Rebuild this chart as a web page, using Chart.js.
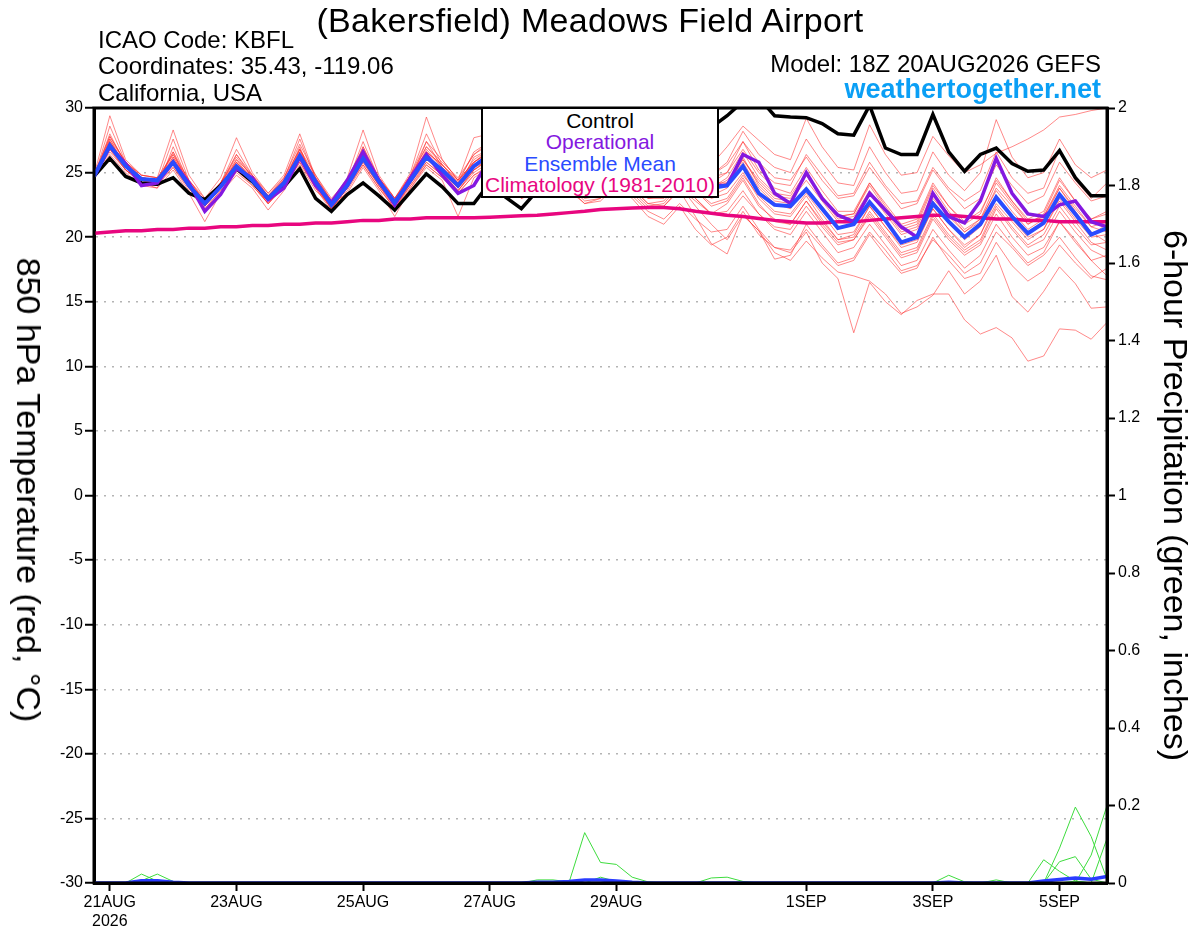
<!DOCTYPE html>
<html>
<head>
<meta charset="utf-8">
<title>(Bakersfield) Meadows Field Airport - GEFS 850 hPa Temperature</title>
<script src="https://cdn.jsdelivr.net/npm/chart.js@4.4.0/dist/chart.umd.min.js"></script>
<style>
    body { margin: 0; background: #fff; font-family: "Liberation Sans", Arial, sans-serif; }
    #wrap { position: relative; width: 1200px; height: 927px; overflow: hidden; }
    #wrap canvas { position: absolute; left: 0; top: 0; }
    .txt { position: absolute; white-space: nowrap; line-height: 1; color: #000; }
    #title { left: 590px; top: 3px; font-size: 34px; letter-spacing: 0.3px; transform: translateX(-50%); }
    #icao { left: 98px; top: 28px; font-size: 24px; }
    #coords { left: 98px; top: 54px; font-size: 24px; }
    #region { left: 98px; top: 81px; font-size: 24px; }
    #model { right: 99px; top: 52px; font-size: 24px; }
    #site { right: 99px; top: 76px; font-size: 27px; font-weight: bold; color: #0a9ff5; }
    #leftTitle { left: 29px; top: 490px; font-size: 34px; transform: translate(-50%, -50%) rotate(90deg); }
    #legendBox {
        position: absolute; left: 481px; top: 107px; width: 238px; height: 91px;
        box-sizing: border-box; border: 2px solid #000; background: #fff;
        text-align: center; font-size: 21px; line-height: 21.3px; padding-top: 1px;
    }
</style>
</head>
<body>
<div id="wrap">
    <canvas id="tempChart" width="1200" height="927"></canvas>
    <div class="txt" id="title">(Bakersfield) Meadows Field Airport</div>
    <div class="txt" id="icao">ICAO Code: KBFL</div>
    <div class="txt" id="coords">Coordinates: 35.43, -119.06</div>
    <div class="txt" id="region">California, USA</div>
    <div class="txt" id="model">Model: 18Z 20AUG2026 GEFS</div>
    <div class="txt" id="site">weathertogether.net</div>
    <div class="txt" id="leftTitle">850 hPa Temperature (red, °C)</div>
    <div id="legendBox">
        <div style="color:#000">Control</div>
        <div style="color:#8418e0">Operational</div>
        <div style="color:#2a4bff">Ensemble Mean</div>
        <div style="color:#e8067f">Climatology (1981-2010)</div>
    </div>
</div>
<script>
// Time axis: 65 steps of 6 hours from 18Z 20AUG2026, labels only on some days
const tickIndex = [1, 9, 17, 25, 33, 45, 53, 61];
const tickLabels = [['21AUG', '2026'], '23AUG', '25AUG', '27AUG', '29AUG', '1SEP', '3SEP', '5SEP'];

// 850 hPa temperature (C)
const control = [
    24.7, 26.1, 24.7, 24.2, 24.1, 24.6, 23.4, 22.9, 24.0, 25.3,
    24.3, 23.0, 23.9, 25.3, 23.0, 22.0, 23.3, 24.2, 23.2, 22.1,
    23.5, 24.9, 23.9, 22.6, 22.6, 24.2, 23.1, 22.2, 23.6, 25.8,
    25.0, 24.2, 25.2, 27.2, 26.4, 25.6, 26.4, 28.4, 28.0, 28.5,
    29.4, 30.5, 30.8, 29.4, 29.3, 29.25, 28.8, 28.0, 27.9, 30.2,
    26.9, 26.4, 26.4, 29.5, 26.6, 25.1, 26.4, 26.9, 25.7, 25.1,
    25.2, 26.7, 24.6, 23.2, 23.2
];
const operational = [
    24.7, 27.0, 25.7, 24.0, 24.2, 25.8, 24.2, 22.0, 23.3, 25.3,
    24.6, 22.9, 23.8, 26.2, 24.0, 22.7, 24.4, 26.6, 24.4, 22.5,
    24.6, 26.4, 24.8, 23.4, 24.0, 26.0, 25.0, 23.8, 24.2, 26.5,
    25.3, 24.0, 24.6, 26.0, 25.0, 24.0, 24.4, 25.8, 24.8, 24.0,
    24.0, 26.4, 25.8, 23.4, 22.6, 25.0, 23.0, 21.7, 21.2, 23.4,
    22.1, 20.8, 20.0, 23.4, 21.6, 21.1, 22.8, 26.1, 23.4, 21.8,
    21.6, 22.5, 22.8, 21.2, 20.8
];
const ensMean = [
    24.7, 27.1, 25.5, 24.5, 24.4, 25.8, 24.0, 22.6, 23.9, 25.5,
    24.4, 23.0, 24.2, 26.3, 24.3, 22.5, 24.0, 26.1, 24.3, 22.7,
    24.4, 26.2, 25.2, 24.0, 25.5, 26.4, 25.2, 24.0, 24.6, 26.2,
    25.1, 24.0, 24.4, 25.8, 24.9, 23.8, 24.2, 25.6, 24.6, 23.8,
    24.0, 25.5, 23.4, 22.5, 22.4, 23.7, 22.2, 20.7, 21.0, 22.7,
    21.3, 19.6, 20.0, 22.6, 21.2, 20.0, 21.0, 23.1, 21.6, 20.3,
    21.1, 23.3, 21.8, 20.2, 20.7
];
const climatology = [
    20.3, 20.4, 20.5, 20.5, 20.6, 20.6, 20.7, 20.7, 20.8, 20.8,
    20.9, 20.9, 21.0, 21.0, 21.1, 21.1, 21.2, 21.3, 21.3, 21.4,
    21.4, 21.5, 21.5, 21.5, 21.5, 21.55, 21.6, 21.65, 21.7, 21.8,
    21.9, 22.0, 22.15, 22.2, 22.25, 22.3, 22.3, 22.2, 22.0, 21.85,
    21.7, 21.6, 21.45, 21.3, 21.2, 21.1, 21.1, 21.2, 21.2, 21.3,
    21.4, 21.5, 21.6, 21.7, 21.7, 21.6, 21.5, 21.4, 21.4, 21.3,
    21.3, 21.2, 21.2, 21.2, 21.2
];

// Ensemble members (thin red)
const mem01 = [
    24.8, 29.4, 26.0, 24.8, 24.6, 28.3, 24.8, 23.0, 24.6, 27.7, 25.0, 23.4, 24.8, 28.0, 24.6, 22.8, 24.6, 28.3, 24.8, 23.0, 25.0, 29.3, 26.0, 24.4, 27.7,
    28.0, 26.5, 25.0, 25.6, 27.8, 26.4, 25.0, 25.6, 27.6, 26.4, 25.0, 25.6, 27.8, 26.8, 25.6,
    27.0, 28.6, 27.5, 26.4, 26.0, 29.2, 27.0, 25.4, 25.2, 28.7, 26.4, 24.8, 25.0, 27.8, 26.3, 25.0, 25.6, 26.5, 27.0, 27.6, 28.3, 29.3, 29.5, 29.8, 30.0
];
const mem02 = [
    24.6, 28.6, 25.8, 24.6, 24.2, 27.6, 24.4, 22.8, 24.2, 26.8, 24.8, 23.2, 24.5, 27.6, 24.5, 22.6, 24.2, 27.4, 24.5, 22.8, 24.8, 28.0, 25.6, 24.2, 26.6,
    27.4, 25.8, 24.6, 25.2, 27.2, 25.8, 24.6, 25.0, 27.0, 25.8, 24.6, 25.0, 27.2, 25.8, 24.8,
    25.8, 28.2, 26.4, 25.4, 25.0, 27.6, 25.8, 24.2, 24.0, 27.0, 25.0, 23.4, 23.6, 26.6, 24.8, 23.6, 25.0, 29.1, 26.2, 24.6, 25.0, 27.6, 25.6, 24.6, 25.2
];
const mem03 = [
    24.7, 28.0, 25.6, 24.2, 23.8, 27.0, 24.2, 22.4, 24.0, 26.4, 24.6, 22.8, 24.2, 27.0, 24.0, 22.2, 23.8, 27.0, 24.2, 22.4, 24.4, 27.4, 25.4, 23.8, 26.2,
    26.8, 25.4, 24.2, 24.8, 26.8, 25.4, 24.2, 24.8, 26.6, 25.4, 24.2, 24.8, 26.6, 25.2, 24.2,
    25.0, 27.4, 25.2, 24.2, 24.0, 26.4, 24.8, 23.2, 23.4, 25.8, 24.0, 22.6, 22.8, 25.4, 23.8, 22.8, 23.6, 26.6, 24.6, 23.4, 23.8, 26.8, 24.4, 23.0, 24.2
];
const mem04 = [
    24.6, 27.6, 25.4, 24.4, 24.2, 26.6, 24.0, 22.6, 23.8, 26.0, 24.4, 22.8, 24.0, 26.8, 24.2, 22.4, 24.0, 26.6, 24.2, 22.6, 24.4, 26.8, 25.4, 24.0, 25.8,
    26.6, 25.2, 24.0, 24.6, 26.4, 25.0, 23.8, 24.2, 25.8, 24.6, 23.4, 23.8, 25.4, 24.2, 23.2,
    23.8, 26.2, 24.0, 22.8, 22.6, 24.8, 23.0, 21.6, 21.8, 24.2, 22.4, 20.8, 21.2, 24.0, 22.4, 21.2, 22.0, 24.4, 22.8, 21.4, 22.0, 24.6, 22.8, 21.4, 22.0
];
const mem05 = [
    24.8, 27.2, 25.6, 24.6, 24.4, 25.8, 24.2, 22.8, 24.0, 25.8, 24.6, 23.2, 24.4, 26.4, 24.6, 22.8, 24.2, 26.2, 24.6, 23.0, 24.6, 26.6, 25.6, 24.4, 25.8,
    26.6, 25.4, 24.2, 24.8, 26.4, 25.2, 24.2, 24.6, 26.0, 25.0, 24.0, 24.2, 25.8, 24.8, 23.8,
    24.4, 26.0, 24.2, 23.0, 22.8, 24.4, 22.8, 21.2, 21.4, 23.4, 21.8, 20.2, 20.6, 23.0, 21.6, 20.4, 21.4, 23.6, 22.0, 20.6, 21.4, 23.8, 22.2, 20.8, 21.2
];
const mem06 = [
    24.7, 26.6, 25.2, 24.2, 24.0, 25.4, 23.6, 22.2, 23.6, 25.0, 24.0, 22.6, 23.8, 25.8, 23.8, 22.0, 23.6, 25.6, 23.8, 22.2, 23.8, 25.6, 24.6, 23.4, 24.8,
    25.6, 24.4, 23.2, 23.6, 25.2, 24.0, 22.8, 23.0, 24.2, 23.2, 22.0, 21.4, 22.6, 21.4, 20.4,
    20.6, 22.4, 20.6, 19.2, 18.8, 20.4, 18.0, 16.8, 12.6, 16.5, 15.0, 14.0, 15.1, 15.6, 15.6, 13.6, 12.5, 13.0, 12.2, 10.4, 10.8, 12.9, 12.8, 12.1, 13.4
];
const mem07 = [
    24.6, 27.0, 25.2, 24.4, 24.2, 25.6, 23.8, 22.4, 23.8, 25.2, 24.2, 22.8, 24.0, 26.0, 24.0, 22.2, 23.8, 25.8, 24.0, 22.4, 24.0, 25.8, 24.8, 23.6, 25.0,
    25.8, 24.6, 23.4, 23.8, 25.4, 24.2, 23.0, 23.2, 24.6, 23.6, 22.4, 22.6, 24.0, 22.4, 21.0,
    19.8, 21.7, 20.5, 18.8, 18.2, 19.7, 18.4, 17.3, 17.0, 16.6, 15.6, 14.1, 14.6, 15.5, 17.4, 15.6, 16.6, 18.6, 15.4, 14.2, 15.8, 17.7, 16.4, 14.5, 14.6
];
const mem08 = [
    24.7, 27.4, 25.6, 24.4, 24.2, 26.0, 24.0, 22.6, 24.0, 25.6, 24.2, 22.8, 24.2, 26.4, 24.2, 22.4, 24.0, 26.4, 24.2, 22.6, 24.4, 26.4, 25.2, 23.8, 25.4,
    26.0, 24.8, 23.6, 24.2, 25.8, 24.6, 23.4, 23.6, 25.0, 23.8, 22.6, 22.4, 23.6, 21.6, 19.5,
    18.7, 21.7, 20.5, 18.3, 18.6, 21.0, 19.4, 18.0, 18.4, 20.4, 19.0, 17.4, 17.8, 19.8, 18.6, 17.2, 18.0, 20.4, 19.2, 17.8, 18.6, 20.0, 18.4, 17.0, 16.7
];
const mem09 = [
    24.8, 27.8, 25.8, 24.8, 24.6, 26.4, 24.4, 23.0, 24.2, 26.0, 24.8, 23.4, 24.6, 26.8, 24.8, 23.0, 24.4, 26.6, 24.6, 23.0, 24.8, 27.0, 25.8, 24.6, 26.4,
    27.2, 26.0, 24.8, 25.4, 27.0, 25.8, 24.6, 25.2, 26.8, 25.8, 24.6, 25.0, 26.6, 25.6, 24.6,
    25.0, 26.8, 25.0, 23.8, 23.4, 25.4, 23.6, 22.0, 22.0, 24.2, 22.6, 21.0, 21.4, 24.2, 22.4, 21.0, 21.8, 24.6, 22.8, 21.2, 21.6, 24.0, 22.4, 20.8, 20.4
];
const mem10 = [
    24.6, 26.4, 25.0, 24.0, 23.8, 25.2, 23.4, 21.2, 23.4, 24.8, 23.8, 22.1, 23.6, 25.6, 23.6, 22.5, 23.4, 25.4, 23.6, 21.6, 23.8, 25.4, 24.4, 21.6, 24.6,
    25.4, 24.2, 23.0, 23.6, 25.0, 23.8, 22.6, 23.0, 24.4, 23.4, 22.2, 22.4, 23.8, 22.8, 21.8,
    22.6, 24.4, 22.4, 21.4, 21.0, 22.8, 21.0, 19.6, 19.8, 21.6, 20.0, 18.4, 18.8, 21.4, 19.8, 18.6, 19.4, 21.8, 20.0, 18.6, 19.2, 21.2, 19.8, 18.2, 18.6
];
const mem11 = [
    24.7, 27.0, 25.4, 24.2, 24.0, 26.2, 24.2, 22.8, 24.0, 25.6, 24.2, 22.8, 24.2, 26.2, 24.2, 22.4, 24.0, 26.0, 24.2, 22.4, 24.2, 26.0, 25.0, 23.8, 25.2,
    26.0, 24.8, 23.6, 24.2, 25.8, 24.6, 23.4, 23.8, 25.2, 24.2, 23.0, 23.0, 24.4, 23.0, 21.8,
    22.0, 23.6, 21.8, 20.6, 20.2, 22.0, 20.4, 18.8, 19.2, 21.0, 19.4, 17.8, 18.2, 20.6, 19.0, 17.6, 18.6, 21.0, 19.4, 18.0, 18.8, 21.2, 19.6, 18.2, 17.0
];
const mem12 = [
    24.8, 27.2, 25.8, 24.8, 24.6, 26.0, 24.2, 22.8, 24.2, 25.8, 24.6, 23.2, 24.4, 26.6, 24.6, 22.8, 24.2, 26.4, 24.6, 23.0, 24.8, 26.6, 25.6, 24.4, 25.8,
    26.8, 25.6, 24.4, 25.0, 26.6, 25.6, 24.4, 24.8, 26.2, 25.2, 24.2, 24.6, 26.0, 25.0, 24.2,
    24.2, 25.8, 23.8, 22.6, 22.2, 23.8, 22.4, 20.8, 21.0, 22.8, 21.2, 19.6, 20.0, 22.8, 21.2, 19.8, 20.8, 23.2, 21.6, 20.2, 21.0, 23.4, 21.8, 20.2, 21.0
];
const mem13 = [
    24.6, 26.8, 25.2, 24.4, 24.4, 25.6, 23.8, 22.2, 23.6, 25.2, 24.2, 22.6, 24.0, 26.0, 24.0, 22.2, 23.8, 25.8, 24.0, 22.2, 24.2, 25.8, 24.8, 23.6, 25.2,
    26.2, 25.0, 23.8, 24.4, 26.0, 24.8, 23.6, 24.0, 25.4, 24.4, 23.2, 23.6, 25.0, 24.0, 23.0,
    23.4, 25.0, 23.0, 21.8, 21.6, 23.2, 21.4, 19.8, 20.0, 22.0, 20.4, 18.8, 19.2, 21.8, 20.2, 19.0, 19.8, 22.4, 20.8, 19.4, 20.2, 22.4, 20.8, 19.4, 19.6
];
const mem14 = [
    24.7, 27.6, 25.8, 24.6, 24.4, 26.4, 24.2, 22.6, 24.2, 26.2, 24.6, 23.0, 24.4, 26.8, 24.4, 22.6, 24.2, 26.8, 24.4, 22.8, 24.6, 27.0, 25.6, 24.2, 26.0,
    26.8, 25.4, 24.2, 24.8, 26.6, 25.2, 24.0, 24.4, 26.0, 25.0, 23.8, 24.2, 25.8, 24.8, 23.8,
    24.6, 26.6, 24.6, 23.4, 23.2, 25.0, 23.2, 21.6, 21.8, 24.0, 22.2, 20.6, 21.0, 23.8, 22.0, 20.6, 21.4, 24.2, 22.6, 21.0, 21.6, 23.8, 22.0, 20.4, 19.6
];
const mem15 = [
    24.6, 26.8, 25.2, 24.2, 24.2, 25.4, 23.8, 22.4, 23.8, 25.2, 24.0, 22.6, 24.0, 25.8, 23.8, 22.2, 23.8, 25.6, 23.8, 22.2, 24.0, 25.6, 24.6, 23.4, 24.8,
    25.4, 24.2, 23.0, 23.4, 24.8, 23.6, 22.6, 22.8, 24.0, 23.0, 21.6, 21.0, 22.4, 20.6, 19.4,
    20.0, 22.0, 20.2, 19.2, 19.0, 20.6, 19.2, 17.8, 18.2, 20.2, 18.6, 17.2, 17.6, 20.0, 18.2, 16.8, 17.2, 19.6, 17.8, 16.6, 17.4, 19.4, 18.0, 16.8, 17.6
];
const mem16 = [
    24.8, 27.4, 25.6, 24.6, 24.4, 26.2, 24.2, 22.8, 24.0, 25.8, 24.4, 23.0, 24.2, 26.6, 24.4, 22.6, 24.0, 26.4, 24.4, 22.8, 24.6, 26.6, 25.4, 24.2, 25.8,
    26.6, 25.4, 24.2, 24.8, 26.4, 25.2, 24.0, 24.6, 26.0, 25.0, 24.0, 24.4, 25.8, 24.8, 23.8,
    24.2, 26.0, 24.4, 23.2, 23.0, 24.8, 23.0, 21.4, 21.6, 23.6, 22.0, 20.4, 20.8, 23.4, 21.8, 20.4, 21.2, 23.8, 22.4, 21.0, 21.8, 24.4, 22.8, 21.4, 21.8
];
const mem17 = [
    24.7, 27.8, 25.8, 24.6, 24.4, 26.6, 24.4, 22.8, 24.2, 26.4, 24.8, 23.2, 24.6, 27.2, 24.8, 22.8, 24.4, 27.0, 24.6, 22.8, 24.8, 27.4, 26.0, 24.4, 26.4,
    27.4, 26.0, 24.8, 25.4, 27.2, 26.0, 24.8, 25.4, 27.0, 26.0, 24.8, 25.2, 26.8, 25.8, 24.8,
    25.6, 27.4, 25.8, 24.6, 24.4, 26.2, 24.4, 23.0, 23.2, 25.4, 23.8, 22.2, 22.6, 25.2, 23.6, 22.2, 23.0, 25.6, 24.0, 22.6, 23.2, 25.8, 24.2, 22.8, 23.2
];
const mem18 = [
    24.6, 27.0, 25.4, 24.4, 24.2, 25.8, 24.0, 22.4, 23.8, 25.4, 24.2, 22.8, 24.2, 26.2, 24.2, 22.4, 24.0, 26.0, 24.2, 22.6, 24.4, 26.2, 25.0, 23.8, 25.4,
    26.2, 25.0, 23.8, 24.2, 25.6, 24.4, 23.2, 23.4, 24.8, 23.8, 22.6, 22.8, 24.2, 23.0, 21.8,
    21.6, 23.2, 21.8, 20.8, 20.6, 22.4, 20.8, 19.4, 19.8, 21.8, 20.2, 18.6, 19.0, 21.6, 20.0, 18.8, 19.6, 22.2, 20.6, 19.2, 19.8, 22.0, 20.4, 19.0, 18.4
];
const mem19 = [
    24.7, 27.2, 25.6, 24.6, 24.4, 26.0, 24.0, 22.6, 24.0, 25.6, 24.4, 23.0, 24.2, 26.4, 24.4, 22.6, 24.2, 26.2, 24.4, 22.8, 24.4, 26.4, 25.2, 24.0, 25.6,
    26.4, 25.2, 24.0, 24.6, 26.2, 25.0, 23.8, 24.2, 25.6, 24.6, 23.4, 23.6, 24.8, 23.6, 22.4,
    22.8, 24.6, 22.6, 21.2, 21.0, 22.8, 21.2, 19.8, 20.2, 22.4, 20.8, 19.2, 19.6, 22.2, 20.6, 19.2, 20.2, 23.0, 21.4, 20.0, 20.6, 22.8, 21.2, 19.6, 19.0
];
const mem20 = [
    24.6, 27.4, 25.4, 24.2, 24.0, 26.0, 24.0, 22.4, 23.8, 25.6, 24.2, 22.6, 24.0, 26.2, 24.0, 22.2, 23.8, 26.0, 24.0, 22.4, 24.2, 26.2, 25.0, 23.6, 25.2,
    26.0, 24.8, 23.6, 24.2, 25.8, 24.6, 23.4, 23.8, 25.2, 24.2, 23.0, 23.2, 24.6, 23.6, 22.6,
    23.0, 24.8, 23.2, 22.0, 21.8, 23.4, 21.8, 20.2, 20.4, 22.4, 20.8, 19.4, 19.8, 22.2, 20.6, 19.4, 20.2, 22.6, 21.2, 19.8, 20.6, 23.0, 21.4, 20.0, 20.2
];
const members = [mem01, mem02, mem03, mem04, mem05, mem06, mem07, mem08, mem09, mem10,
                 mem11, mem12, mem13, mem14, mem15, mem16, mem17, mem18, mem19, mem20];

// 6-hour precipitation (inches), members in green, mean in blue
const pcp01 = [
    0, 0, 0, 0.023, 0.005, 0, 0, 0, 0, 0,
    0, 0, 0, 0, 0, 0, 0, 0, 0, 0,
    0, 0, 0, 0, 0, 0, 0, 0, 0, 0,
    0, 0.13, 0.053, 0.048, 0.015, 0.003, 0, 0, 0, 0,
    0, 0, 0, 0, 0, 0, 0, 0, 0, 0,
    0, 0, 0, 0, 0.02, 0.003, 0, 0, 0, 0,
    0.06, 0.03, 0.005, 0, 0
];
const pcp02 = [
    0, 0, 0, 0.006, 0.023, 0.004, 0, 0, 0, 0,
    0, 0, 0, 0, 0, 0, 0, 0, 0, 0,
    0, 0, 0, 0, 0, 0, 0, 0, 0.008, 0.008,
    0.003, 0, 0.015, 0.004, 0, 0, 0, 0, 0, 0.013,
    0.015, 0.004, 0, 0, 0, 0, 0, 0, 0, 0,
    0, 0, 0, 0, 0, 0, 0, 0.008, 0, 0,
    0, 0.055, 0.068, 0.01, 0
];
const pcp03 = [
    0, 0, 0, 0.008, 0.008, 0, 0, 0, 0, 0,
    0, 0, 0, 0, 0, 0, 0, 0, 0, 0,
    0, 0, 0, 0, 0, 0, 0, 0, 0, 0,
    0, 0, 0, 0, 0.004, 0, 0, 0, 0, 0,
    0, 0, 0, 0, 0, 0, 0, 0, 0, 0,
    0, 0, 0, 0, 0, 0, 0, 0, 0, 0,
    0, 0.09, 0.196, 0.12, 0.01
];
const pcp04 = [
    0, 0, 0, 0, 0, 0, 0, 0, 0, 0,
    0, 0, 0, 0, 0, 0, 0, 0, 0, 0,
    0, 0, 0, 0, 0, 0, 0, 0, 0, 0,
    0, 0, 0, 0, 0, 0, 0, 0, 0, 0,
    0, 0, 0, 0, 0, 0, 0, 0, 0, 0,
    0, 0, 0, 0, 0, 0, 0, 0, 0, 0,
    0, 0, 0, 0.072, 0.2
];
const pcp05 = [
    0, 0, 0, 0, 0, 0, 0, 0, 0, 0,
    0, 0, 0, 0, 0, 0, 0, 0, 0, 0,
    0, 0, 0, 0, 0, 0, 0, 0, 0, 0,
    0, 0, 0, 0, 0, 0, 0, 0, 0, 0,
    0, 0, 0, 0, 0, 0, 0, 0, 0, 0,
    0, 0, 0, 0, 0, 0, 0, 0, 0, 0,
    0, 0, 0.005, 0, 0.115
];
const pcpMean = [
    0, 0, 0, 0.006, 0.006, 0.002, 0, 0, 0, 0,
    0, 0, 0, 0, 0, 0, 0, 0, 0, 0,
    0, 0, 0, 0, 0, 0, 0, 0, 0.002, 0.002,
    0.004, 0.008, 0.008, 0.005, 0.002, 0, 0, 0, 0, 0,
    0, 0, 0, 0, 0, 0, 0, 0, 0, 0,
    0, 0, 0, 0, 0.002, 0, 0, 0, 0, 0,
    0.005, 0.009, 0.013, 0.01, 0.017
];
const pcpMembers = [pcp01, pcp02, pcp03, pcp04, pcp05];

// Initialize the chart
document.addEventListener('DOMContentLoaded', function() {
    Chart.defaults.font.family = '"Liberation Sans", Arial, sans-serif';
    Chart.defaults.color = '#000';
    initTempChart();
});

// Turn a list of 6-hourly values into x/y points
function toPoints(values) {
    return values.map((v, i) => ({ x: i, y: v }));
}

function lineSet(label, values, color, width, axis, order) {
    return {
        label: label,
        data: toPoints(values),
        borderColor: color,
        borderWidth: width,
        yAxisID: axis,
        order: order,
        pointRadius: 0,
        tension: 0,
        fill: false
    };
}

// Black frame drawn over the lines, like the original plot box
const frameBox = {
    id: 'frameBox',
    afterDatasetsDraw(chart) {
        const { ctx, chartArea: a } = chart;
        ctx.save();
        ctx.strokeStyle = '#000';
        ctx.lineWidth = 3;
        ctx.strokeRect(a.left, a.top, a.right - a.left, a.bottom - a.top);
        ctx.restore();
    }
};

function initTempChart() {
    const datasets = [
        lineSet('Ensemble Mean', ensMean, '#2a4bff', 4, 'y', 1),
        lineSet('Operational', operational, '#8418e0', 3.5, 'y', 2),
        lineSet('Control', control, '#000000', 3.5, 'y', 3),
        lineSet('Climatology (1981-2010)', climatology, '#e8067f', 3.5, 'y', 4),
        lineSet('Mean precip', pcpMean, '#2a3cff', 3.5, 'y2', 5)
    ];
    pcpMembers.forEach((p, k) => datasets.push(lineSet('Precip ' + (k + 1), p, '#3ddc3d', 1, 'y2', 6)));
    members.forEach((m, k) => datasets.push(lineSet('Member ' + (k + 1), m, 'rgba(255, 40, 40, 0.55)', 1, 'y', 7)));

    const ctx = document.getElementById('tempChart').getContext('2d');
    window.tempChart = new Chart(ctx, {
        type: 'line',
        data: { datasets: datasets },
        options: {
            responsive: false,
            animation: false,
            devicePixelRatio: 1,
            layout: { padding: { top: 108, left: 0, right: 0, bottom: 0 } },
            plugins: {
                legend: { display: false },
                tooltip: { enabled: false }
            },
            scales: {
                x: {
                    type: 'linear',
                    min: 0,
                    max: 64,
                    afterBuildTicks: (scale) => { scale.ticks = tickIndex.map(v => ({ value: v })); },
                    afterFit: (scale) => { scale.height = 44; },
                    ticks: {
                        autoSkip: false,
                        maxRotation: 0,
                        padding: 2,
                        font: { size: 16 },
                        callback: (value, index) => tickLabels[index]
                    },
                    grid: { drawOnChartArea: false, tickLength: 8, tickColor: '#000', tickWidth: 2 },
                    border: { color: '#000', width: 3 }
                },
                y: {
                    position: 'left',
                    min: -30,
                    max: 30,
                    afterFit: (scale) => { scale.width = 94; },
                    ticks: { stepSize: 5, padding: 2, font: { size: 16 } },
                    grid: { color: '#b4b4b4', lineWidth: 1.5, tickLength: 9, tickColor: '#000', tickWidth: 2 },
                    border: { color: '#000', width: 3, dash: [2, 6] }
                },
                y2: {
                    position: 'right',
                    min: 0,
                    max: 2,
                    afterFit: (scale) => { scale.width = 93; },
                    ticks: {
                        stepSize: 0.2,
                        padding: 3,
                        font: { size: 16 },
                        callback: (value) => String(Number(value.toFixed(1)))
                    },
                    grid: { drawOnChartArea: false, tickLength: 8, tickColor: '#000', tickWidth: 2 },
                    border: { color: '#000', width: 3 },
                    title: {
                        display: true,
                        text: '6-hour Precipitation (green, inches)',
                        font: { size: 34 },
                        padding: { top: 6, bottom: 0 }
                    }
                }
            }
        },
        plugins: [frameBox]
    });
}
</script>
</body>
</html>
